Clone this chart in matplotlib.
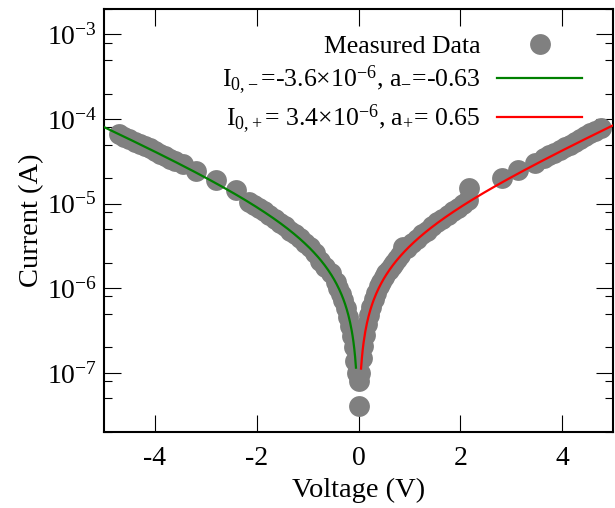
import numpy as np
import matplotlib
matplotlib.use("Agg")
from matplotlib import pyplot as plt
from matplotlib.ticker import LogLocator, FuncFormatter, NullFormatter, MultipleLocator

plt.rcParams['font.family'] = ['Liberation Serif', 'DejaVu Serif']
plt.rcParams['mathtext.fontset'] = 'custom'
plt.rcParams['mathtext.rm'] = 'Liberation Serif'
plt.rcParams['mathtext.it'] = 'Liberation Serif:italic'

# measured I-V points
v_meas = [-4.70, -4.60, -4.50, -4.40, -4.30, -4.20, -4.10, -4.00, -3.90, -3.80,
          -3.70, -3.60, -3.45, -3.20, -2.80, -2.40, -2.15, -2.05, -1.95, -1.85,
          -1.75, -1.65, -1.55, -1.45, -1.35, -1.25, -1.15, -1.05, -0.95, -0.85,
          -0.75, -0.65, -0.55, -0.45, -0.40, -0.35, -0.30, -0.25, -0.20, -0.16,
          -0.12, -0.09, -0.06, -0.03, 0.00, 0.00,
          0.03, 0.06, 0.09, 0.12, 0.16, 0.20, 0.25, 0.30, 0.35, 0.40,
          0.45, 0.50, 0.55, 0.60, 0.65, 0.70, 0.75, 0.82, 0.88, 0.95,
          1.05, 1.15, 1.25, 1.35, 1.45, 1.55, 1.65, 1.75, 1.85, 1.95,
          2.05, 2.15, 2.18, 2.82, 3.14, 3.47, 3.65, 3.75, 3.85, 3.95,
          4.05, 4.15, 4.25, 4.35, 4.45, 4.55, 4.65, 4.76]
i_meas = [6.6e-5, 6.2e-5, 5.8e-5, 5.4e-5, 5.1e-5, 4.8e-5, 4.5e-5, 4.2e-5, 3.9e-5, 3.65e-5,
          3.4e-5, 3.2e-5, 2.95e-5, 2.45e-5, 1.9e-5, 1.45e-5, 1.05e-5, 9.7e-6, 8.9e-6, 8.1e-6,
          7.3e-6, 6.6e-6, 5.9e-6, 5.4e-6, 4.8e-6, 4.4e-6, 3.9e-6, 3.4e-6, 3.05e-6, 2.6e-6,
          2.1e-6, 1.8e-6, 1.5e-6, 1.2e-6, 1.0e-6, 8.5e-7, 7.2e-7, 5.8e-7, 4.6e-7, 3.6e-7,
          2.7e-7, 2.0e-7, 1.4e-7, 1.0e-7, 8.0e-8, 4.1e-8,
          1.0e-7, 1.5e-7, 2.1e-7, 2.8e-7, 3.8e-7, 4.8e-7, 6.0e-7, 7.4e-7, 8.8e-7, 1.05e-6,
          1.2e-6, 1.35e-6, 1.5e-6, 1.65e-6, 1.85e-6, 2.0e-6, 2.2e-6, 2.5e-6, 3.1e-6, 3.0e-6,
          3.4e-6, 3.8e-6, 4.4e-6, 4.8e-6, 5.4e-6, 6.0e-6, 6.6e-6, 7.3e-6, 8.1e-6, 8.9e-6,
          9.8e-6, 1.1e-5, 1.55e-5, 2.0e-5, 2.5e-5, 3.0e-5, 3.5e-5, 3.75e-5, 4.0e-5, 4.3e-5,
          4.65e-5, 5.0e-5, 5.4e-5, 5.8e-5, 6.3e-5, 6.8e-5, 7.3e-5, 7.8e-5]

# fit parameters from the legend, |I| = |I0 (exp(a V) - 1)|
i0_neg, a_neg = -3.6e-6, -0.63
i0_pos, a_pos = 3.4e-6, 0.65
v_fit_neg = np.linspace(-5.0, -0.05, 300)
v_fit_pos = np.linspace(0.05, 5.0, 300)

label_data = 'Measured Data'
label_neg = r'I$_{0,\!-}$=-3.6$\times$10$^{-6}$, a$_{-}$=-0.63'
label_pos = r'I$_{0,\!+}$= 3.4$\times$10$^{-6}$, a$_{+}$= 0.65'

fig = plt.figure(figsize=(6.15, 5.08), dpi=100)
ax = fig.add_axes([104/615, 1-432/508, (613-104)/615, (432-9)/508])

ax.plot(v_meas, i_meas, 'o', color='#808080', markersize=15, markeredgewidth=0,
        label=label_data, zorder=2)
ax.plot(v_fit_neg, np.abs(i0_neg*(np.exp(a_neg*v_fit_neg) - 1)), color='#008000',
        lw=1.6, label=label_neg, zorder=3)
ax.plot(v_fit_pos, np.abs(i0_pos*(np.exp(a_pos*v_fit_pos) - 1)), color='#ff0000',
        lw=1.6, label=label_pos, zorder=3)

ax.set_yscale('log')
ax.set_xlim(-5, 5)
ax.set_ylim(2e-8, 2e-3)

ax.xaxis.set_major_locator(MultipleLocator(2))
ax.yaxis.set_major_locator(LogLocator(base=10, numticks=20))
ax.yaxis.set_minor_locator(LogLocator(base=10, subs=[2, 5, 8], numticks=20))
ax.yaxis.set_minor_formatter(NullFormatter())
ax.yaxis.set_major_formatter(FuncFormatter(lambda y, p: r'$\mathregular{10^{%d}}$' % round(np.log10(y))))
ax.xaxis.set_major_formatter(FuncFormatter(lambda x, p: '%d' % x))

ax.tick_params(which='both', direction='in', top=True, right=True, width=0.8)
ax.tick_params(which='major', length=12, labelsize=20)
ax.tick_params(which='minor', length=6)
ax.tick_params(axis='x', pad=10)
ax.tick_params(axis='y', pad=5)
for s in ax.spines.values():
    s.set_linewidth(1.5)

ax.set_xlabel('Voltage (V)', fontsize=20.5, labelpad=5)
ax.set_ylabel('Current (A)', fontsize=20.5, labelpad=2)

ax.legend(loc='upper right', bbox_to_anchor=(582/615, 1-35/508), bbox_transform=fig.transFigure,
          frameon=False, markerfirst=False, fontsize=18.5, handlelength=3.3,
          handletextpad=0.65, labelspacing=0.22, borderpad=0, borderaxespad=0, numpoints=1)

fig.savefig('out.png', dpi=100)
